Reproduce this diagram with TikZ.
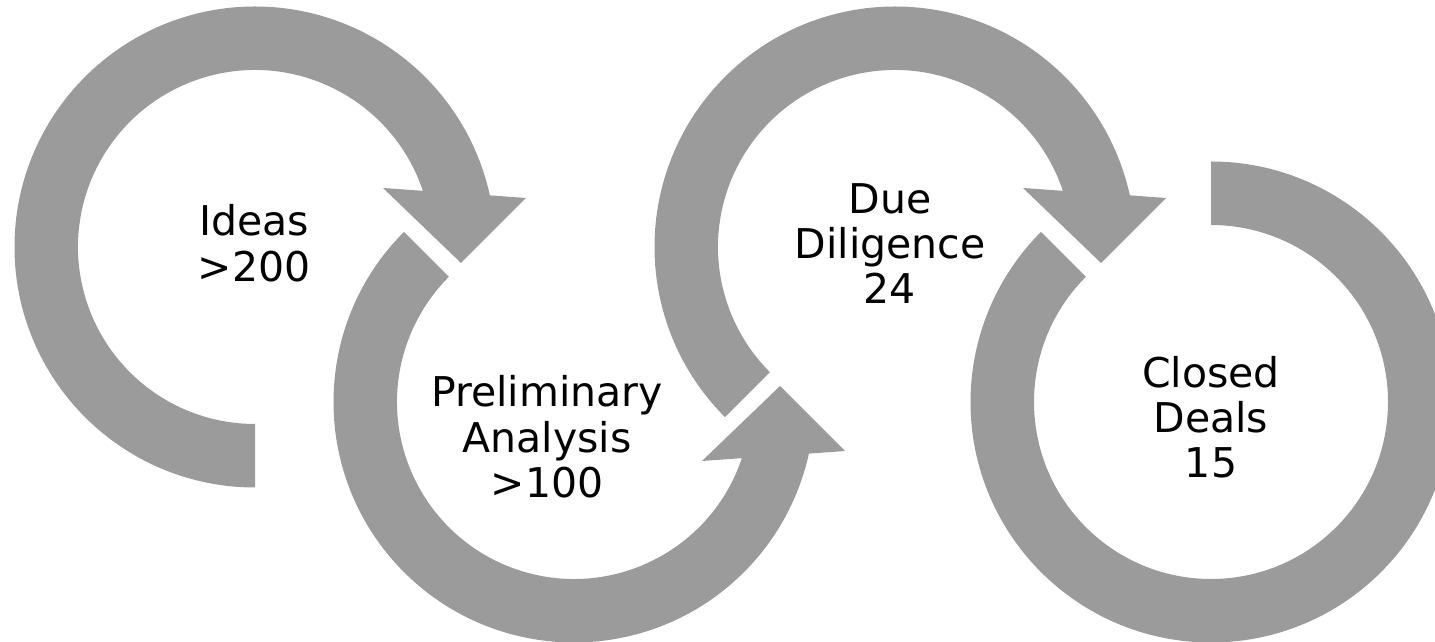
\documentclass[tikz,border=0pt]{standalone}
\usepackage{fontspec}
\setmainfont{DejaVu Sans}
\definecolor{ringgray}{RGB}{155,155,155}
\begin{document}
\begin{tikzpicture}[x=1pt,y=1pt, line join=round, font=\fontsize{41}{45.3}\selectfont,
  ring/.style={fill=ringgray,draw=none},
  lab/.style={align=center,inner sep=0pt,anchor=base}]
\def\R{240.5}\def\r{177}
\useasboundingbox (0,0) rectangle (1435,642);
\clip (0,0) rectangle (1435,642);
% rings 1 and 3: clockwise, head on the right
\foreach \cx/\cy/\s in {255/395/270, 895/395/225}
  \fill[ring,shift={(\cx,\cy)}] (\s:\R) arc[start angle=\s, end angle=12.4, radius=\R]
    -- (271,49) -- (206,-16) -- (128,59) -- (18.5:\r)
    arc[start angle=18.5, end angle=\s, radius=\r] -- cycle;
% ring 2: counter clockwise, head on the right
\fill[ring,shift={(574,240)}] (135:\R) arc[start angle=135, end angle=347.6, radius=\R]
    -- (271,-49) -- (206,16) -- (128,-59) -- (341.5:\r)
    arc[start angle=341.5, end angle=135, radius=\r] -- cycle;
% ring 4: no head
\fill[ring,shift={(1211,240)}] (90:\R) arc[start angle=90, end angle=-225, radius=\R]
    -- (-225:\r) arc[start angle=-225, end angle=90, radius=\r] -- cycle;
% labels, anchored on the last line
\foreach \n/\x/\y/\t in {ideas/254/360.7/{Ideas\\>200}, prelim/547/144.5/{Preliminary\\Analysis\\>100},
    due/890/338.2/{Due\\Diligence\\24}, closed/1211/164/{Closed\\Deals\\15}}
  \node[lab] (\n) at (\x,\y) {\t};
\end{tikzpicture}
\end{document}
